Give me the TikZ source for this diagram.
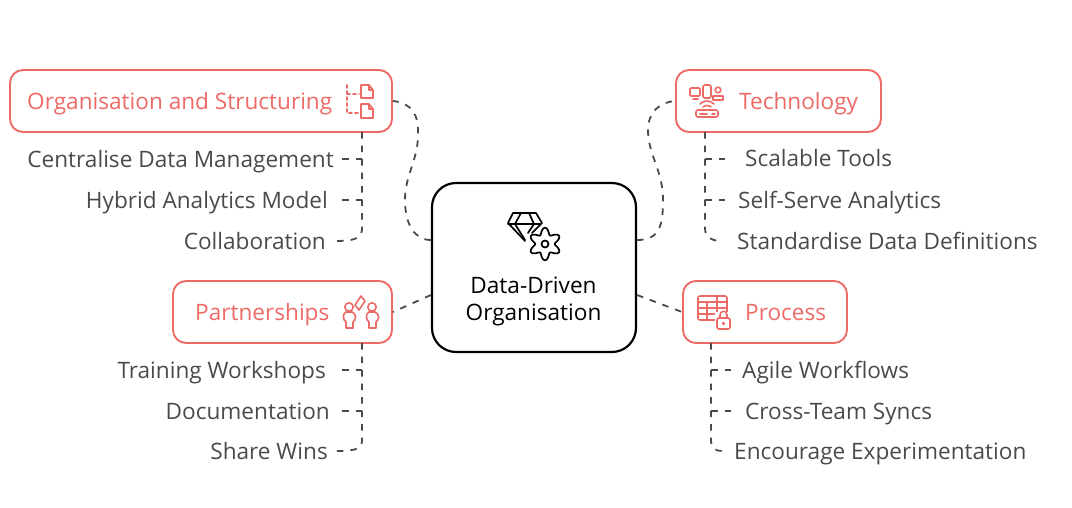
\documentclass[tikz,border=0pt]{standalone}
\usepackage{fontspec}
\setmainfont{Open Sans}
\definecolor{coral}{HTML}{EE6A66}
\definecolor{inkgrey}{HTML}{4A4A4A}
\begin{document}
\begin{tikzpicture}[x=1pt,y=-1pt,
  catbox/.style={draw=coral,line width=1.9pt,rounded corners=13pt,fill=white,minimum height=62pt,inner sep=0pt},
  txt/.style={font=\fontsize{22.6}{27}\selectfont,inner sep=0pt,text height=16pt,text depth=5pt},
  cattext/.style={txt,text=coral,anchor=west},
  rootbox/.style={draw=black,line width=2.2pt,rounded corners=24pt,fill=white,minimum width=204pt,minimum height=169pt,inner sep=0pt},
  roottext/.style={text=black,font=\fontsize{22.6}{27}\selectfont,align=center,inner sep=0pt},
  leafL/.style={txt,text=inkgrey,anchor=east},
  leafR/.style={txt,text=inkgrey,anchor=west},
  conn/.style={draw=inkgrey,line width=1.8pt,dash pattern=on 6.5pt off 7pt},
  ico/.style={draw=coral,line width=1.6pt,line cap=round,line join=round},
  icok/.style={draw=black,line width=1.7pt,line cap=round,line join=round}]
\useasboundingbox (0,0) rectangle (1072,507);

% boxes
\node[catbox,minimum width=382pt] (org) at (201,101) {};
\node[catbox,minimum width=205pt] (tech) at (778.5,101) {};
\node[catbox,minimum width=219pt] (part) at (282.5,312) {};
\node[catbox,minimum width=164pt] (proc) at (765,312) {};
\node[rootbox] (root) at (534,267.5) {};

\node[cattext] (orgt) at (27,103.5) {Organisation and Structuring};
\node[cattext] (techt) at (739,103.5) {Technology};
\node[cattext] (partt) at (195,314.5) {Partnerships};
\node[cattext] (proct) at (745,314.5) {Process};
\node[roottext] (roott) at (533.5,301) {Data-Driven\\Organisation};

% leaves
\node[leafL] (l1) at (334,161.5) {Centralise Data Management};
\node[leafL] (l2) at (328,202.5) {Hybrid Analytics Model};
\node[leafL] (l3) at (326,243.5) {Collaboration};
\node[leafL] (l4) at (326,372.5) {Training Workshops};
\node[leafL] (l5) at (330,413.5) {Documentation};
\node[leafL] (l6) at (328,453.5) {Share Wins};
\node[leafR] (r1) at (745,161) {Scalable Tools};
\node[leafR] (r2) at (738,202.5) {Self-Serve Analytics};
\node[leafR] (r3) at (737,243.5) {Standardise Data Definitions};
\node[leafR] (r4) at (742,372.5) {Agile Workflows};
\node[leafR] (r5) at (745,413.5) {Cross-Team Syncs};
\node[leafR] (r6) at (734,453.5) {Encourage Experimentation};

% anchor points on the root
\coordinate (rootNW) at (root.west |- 0,240);
\coordinate (rootSW) at (root.west |- 0,295);
\coordinate (rootNE) at (root.east |- 0,240);
\coordinate (rootSE) at (root.east |- 0,295);
% trunk tops
\coordinate (tk1) at (362,132);
\coordinate (tk2) at (362,343);
\coordinate (tk3) at (705,132);
\coordinate (tk4) at (711,343);

% root connectors
\draw[conn] (rootNW) .. controls (415,240) and (405,225) .. (405,200)
  .. controls (405,175) and (418,160) .. (418,135)
  .. controls (419,115) and (412,103) .. (org.east);
\draw[conn] (rootNE) .. controls (660,240) and (663,225) .. (663,200)
  .. controls (663,170) and (648,155) .. (648,130)
  .. controls (648,112) and (660,102) .. (tech.west);
\draw[conn] (rootSW) -- (part.east);
\draw[conn] (rootSE) -- (proc.west);

% trunks
\draw[conn] (tk1) -- (362,228) .. controls (362,237) and (358,241) .. ([xshift=9pt]l3.east |- 0,241);
\draw[conn] ([xshift=8pt]l1.east |- 0,159) -- (362,159);
\draw[conn] ([xshift=14pt]l2.east |- 0,200) -- (362,200);
\draw[conn] (tk2) -- (362,440) .. controls (362,448) and (358,451) .. ([xshift=8pt]l6.east |- 0,451);
\draw[conn] ([xshift=16pt]l4.east |- 0,370) -- (362,370);
\draw[conn] ([xshift=12pt]l5.east |- 0,411) -- (362,411);
\draw[conn] (tk3) -- (705,228) .. controls (705,236) and (710,240) .. ([xshift=-18pt]r3.west |- 0,241);
\draw[conn] (705,159) -- ([xshift=-19pt]r1.west |- 0,159);
\draw[conn] (705,200) -- ([xshift=-12pt]r2.west |- 0,200);
\draw[conn] (tk4) -- (711,440) .. controls (711,448) and (715,451) .. ([xshift=-12pt]r6.west |- 0,451);
\draw[conn] (711,370) -- ([xshift=-10pt]r4.west |- 0,370);
\draw[conn] (711,411) -- ([xshift=-13pt]r5.west |- 0,411);

% root icon: gem
\draw[icok] (513,213) -- (536,213) -- (542,223) -- (532,233) (513,213) -- (508,223) -- (525,241);
\draw[icok] (508,224) -- (540,224);
\draw[icok] (521,213) -- (515,224) -- (525,240) (529,213) -- (534,224) -- (528,233);
% root icon: gear
\draw[icok] plot[domain=0:360,samples=121,smooth] ({545+(13-3.2*cos(6*\x))*cos(\x)},{244+(13-3.2*cos(6*\x))*sin(\x)}) -- cycle;
\draw[icok] (545,244) circle (3.5pt);

% organisation icon
\draw[ico,dash pattern=on 3pt off 3pt] (347,85) -- (347,113) -- (359,113) (347,94) -- (359,94);
\draw[ico] (361,85) -- (369,85) -- (373,90) -- (373,98) -- (361,98) -- cycle (369,85) -- (369,90) -- (373,90);
\draw[ico] (361,104) -- (369,104) -- (373,109) -- (373,118) -- (361,118) -- cycle (369,104) -- (369,109) -- (373,109);

% partnerships icon
\draw[ico] (349,307) circle (4.2pt) (372,307) circle (4.2pt);
\draw[ico] (346,312) -- (352,312) .. controls (357,314) and (356,320) .. (353,322) -- (353,328) -- (346,328) -- (346,322) .. controls (343,320) and (342,314) .. (346,312);
\draw[ico] (369,312) -- (375,312) .. controls (380,314) and (379,320) .. (376,322) -- (376,328) -- (369,328) -- (369,322) .. controls (366,320) and (365,314) .. (369,312);
\draw[ico] (361,296) -- (365,301) -- (359,310) -- (355,305) -- cycle;

% technology icon
\draw[ico,rounded corners=1pt] (690,88) rectangle (700,96);
\draw[ico] (693,99) -- (698,99);
\draw[ico,rounded corners=1.5pt] (703,85) rectangle (711,98);
\draw[ico] (718,90) circle (2.8pt) (713,100) -- (723,100) -- (723,96) -- (713,96) -- cycle;
\draw[ico,rounded corners=2pt] (696,110) rectangle (718,117);
\draw[ico] (700,114) -- (707,114) (712,114) -- (715,114);
\draw[ico] (700,104) .. controls (704,100) and (710,100) .. (714,104) (703,107) .. controls (705,105) and (709,105) .. (711,107);

% process icon
\draw[ico,rounded corners=2pt] (698,296) rectangle (727,320);
\draw[ico] (698,302) -- (727,302) (698,308) -- (727,308) (698,314) -- (718,314) (707,302) -- (707,320) (717,296) -- (717,314);
\fill[white] (715,312) rectangle (733,331);
\draw[ico,rounded corners=1.5pt] (717,318) rectangle (730,329);
\draw[ico] (720,318) -- (720,315) .. controls (720,310) and (727,310) .. (727,315) -- (727,318);
\fill[coral] (723.5,323.5) circle (1.9pt);
\end{tikzpicture}
\end{document}
